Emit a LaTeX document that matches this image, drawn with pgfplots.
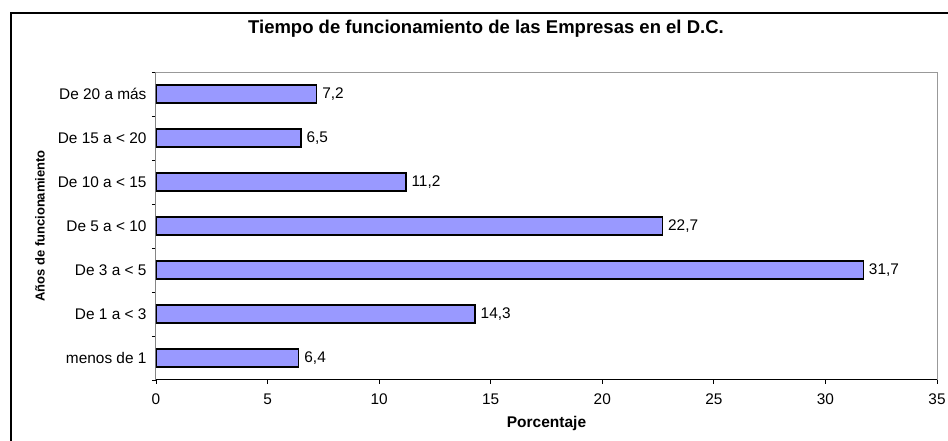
\documentclass[border=0pt]{standalone}
\usepackage{fontspec}
\setmainfont{Liberation Sans}
\usepackage{pgfplots}
\pgfplotsset{compat=1.18}
\definecolor{barfill}{HTML}{9999FF}
\begin{document}
\begin{tikzpicture}
\useasboundingbox (0,0) rectangle (948pt,441pt);
\clip (0,0) rectangle (948pt,441pt);
\fill[white] (0,0) rectangle (948pt,441pt);
\draw[line width=1.5pt] (11pt,428pt) rectangle (961pt,-20pt);
\begin{axis}[
  at={(156pt,61pt)}, anchor=south west,
  scale only axis, width=781pt, height=308pt,
  xbar, bar width=18pt,
  xmin=0, xmax=35, ymin=-0.5, ymax=6.5,
  xtick={0,5,...,35},
  ytick={0,...,6},
  yticklabels={menos de 1, De 1 a < 3, De 3 a < 5, De 5 a < 10, De 10 a < 15, De 15 a < 20, De 20 a más},
  minor xtick={0,5,...,35},
  minor ytick={-0.5,0.5,...,6.5},
  major tick length=0pt, minor tick length=4pt,
  tick align=outside, tick pos=left,
  minor tick style={black, line width=0.8pt},
  axis line style={draw=gray!80, line width=1pt},
  /pgf/number format/assume math mode=true,
  ticklabel style={font=\fontsize{15.4}{18}\selectfont},
  xticklabel style={yshift=-10pt},
  yticklabel style={xshift=-6pt},
  title={\textbf{Tiempo de funcionamiento de las Empresas en el D.C.}},
  title style={at={(axis description cs:0.4225,1.12)}, anchor=center, font=\fontsize{18.5}{21}\selectfont},
  xlabel={\textbf{Porcentaje}},
  xlabel style={at={(axis description cs:0.5,-0.1396)}, anchor=center, font=\fontsize{15.5}{18}\selectfont},
  ylabel={\textbf{Años de funcionamiento}},
  ylabel style={at={(axis description cs:-0.1485,0.5)}, anchor=center, font=\fontsize{13}{15}\selectfont},
  nodes near coords={\pgfmathprintnumber[use comma,fixed,fixed zerofill,precision=1]{\pgfplotspointmeta}},
  point meta=x,
  nodes near coords style={anchor=west, font=\fontsize{15.4}{18}\selectfont, inner sep=5pt},
]
\addplot[fill=barfill, draw=black, line width=1.2pt] coordinates {
  (6.4,0) (14.3,1) (31.7,2) (22.7,3) (11.2,4) (6.5,5) (7.2,6)
};
\draw[black, line width=1pt] (rel axis cs:0,1) -- (rel axis cs:0,0) -- (rel axis cs:1,0);
\end{axis}
\end{tikzpicture}
\end{document}
